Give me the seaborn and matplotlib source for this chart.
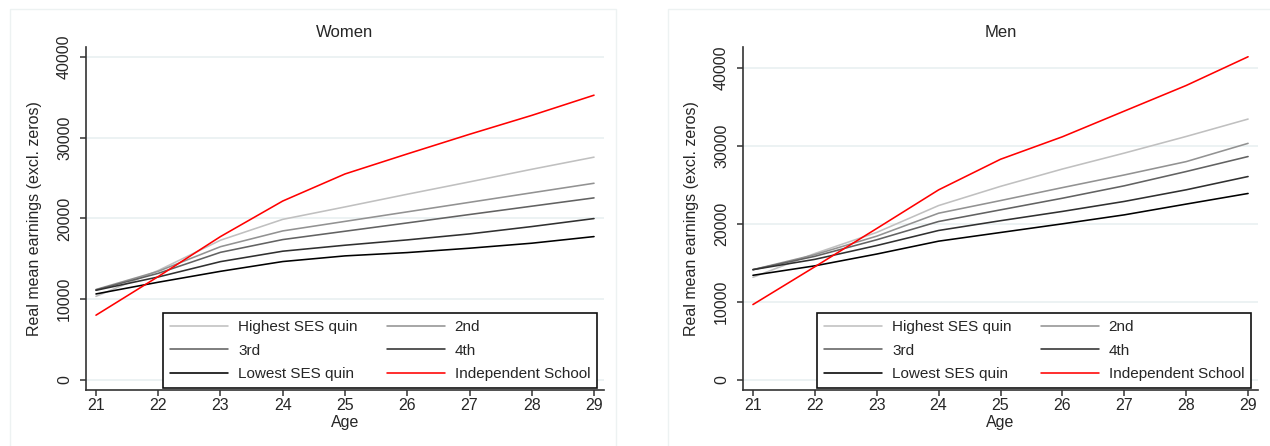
import matplotlib
matplotlib.use("Agg")
import matplotlib.pyplot as plt
from matplotlib.patches import Rectangle
from matplotlib.lines import Line2D
import pandas as pd
import seaborn as sns

ages = [21, 22, 23, 24, 25, 26, 27, 28, 29]
groups = ["Highest SES quin", "2nd", "3rd", "4th", "Lowest SES quin", "Independent School"]

# women, real mean earnings (excl. zeros)
women_highest = [10350, 13550, 17300, 19880, 21420, 22990, 24520, 26080, 27580]
women_second = [11200, 13450, 16500, 18450, 19630, 20810, 21990, 23170, 24350]
women_third = [11150, 13200, 15800, 17380, 18410, 19440, 20480, 21510, 22540]
women_fourth = [11100, 12750, 14650, 15940, 16680, 17340, 18080, 18990, 19980]
women_lowest = [10650, 12100, 13450, 14660, 15360, 15770, 16310, 16930, 17750]
women_indep = [8020, 12800, 17750, 22150, 25500, 27980, 30410, 32750, 35250]

# men
men_highest = [13150, 16200, 18900, 22340, 24800, 27020, 29060, 31190, 33420]
men_second = [14130, 16050, 18420, 21360, 22980, 24640, 26260, 27970, 30310]
men_third = [14130, 15840, 17960, 20300, 21790, 23280, 24870, 26700, 28620]
men_fourth = [14130, 15450, 17220, 19150, 20400, 21590, 22870, 24360, 26060]
men_lowest = [13410, 14620, 16130, 17780, 18890, 20000, 21150, 22530, 23890]
men_indep = [9660, 14500, 19400, 24350, 28270, 31150, 34440, 37720, 41400]

colors = {"Highest SES quin": "#c0c0c0", "2nd": "#929292", "3rd": "#626262",
          "4th": "#303030", "Lowest SES quin": "#000000", "Independent School": "#ff0000"}


def to_long(series):
    rows = []
    for g, vals in zip(groups, series):
        for a, v in zip(ages, vals):
            rows.append({"Age": a, "earn": v, "group": g})
    return pd.DataFrame(rows)


women = to_long([women_highest, women_second, women_third, women_fourth, women_lowest, women_indep])
men = to_long([men_highest, men_second, men_third, men_fourth, men_lowest, men_indep])

sns.set_style("white")
plt.rcParams["font.family"] = ["Liberation Sans", "DejaVu Sans"]

fig = plt.figure(figsize=(12.7, 4.46), dpi=100)
W, H = 1270, 446

# light panel frames
for x0, x1 in [(10, 616), (668, 1290)]:
    fig.patches.append(Rectangle((x0 / W, -0.1), (x1 - x0) / W, (H - 9) / H + 0.1,
                                 transform=fig.transFigure, fill=False,
                                 edgecolor="#edf2f2", lw=1.0))

panels = [
    (women, "Women", (86, 604), (-1238, 41213)),
    (men, "Men", (743, 1258), (-1281, 42648)),
]

for data, title, (px0, px1), ylim in panels:
    ax = fig.add_axes([px0 / W, (H - 390) / H, (px1 - px0) / W, (390 - 47) / H])
    for yv in range(0, 40001, 10000):
        ax.axhline(yv, color="#eaf1f2", lw=1.3, zorder=0)
    sns.lineplot(data=data, x="Age", y="earn", hue="group", hue_order=groups,
                 palette=colors, lw=1.15, ax=ax, legend=False, zorder=3)
    ax.set_xlim(20.84, 29.16)
    ax.set_ylim(*ylim)
    ax.set_xticks(ages)
    ax.set_yticks(range(0, 40001, 10000))
    ax.tick_params(axis="both", direction="out", length=4, width=1.1, color="#333333",
                   labelsize=11.5, left=True, bottom=True)
    ax.tick_params(axis="x", pad=2)
    ax.tick_params(axis="y", pad=6)
    for lab in ax.get_yticklabels():
        lab.set_rotation(90)
        lab.set_va("center")
    for side in ["top", "right"]:
        ax.spines[side].set_visible(False)
    for side in ["left", "bottom"]:
        ax.spines[side].set_color("#333333")
        ax.spines[side].set_linewidth(1.2)
    ax.set_xlabel("Age", fontsize=11.5, labelpad=1)
    ax.set_ylabel("Real mean earnings (excl. zeros)", fontsize=11.5, labelpad=11)
    ax.set_title(title, fontsize=12, pad=7)

    # Stata fills legend rows first, matplotlib fills columns
    order = [0, 2, 4, 1, 3, 5]
    handles = [Line2D([], [], color=colors[groups[i]], lw=1.15) for i in order]
    labels = [groups[i] for i in order]
    leg = ax.legend(handles, labels, ncol=2, loc="lower right",
                    bbox_to_anchor=(0.9865, 0.006), borderaxespad=0, fontsize=11,
                    frameon=True, fancybox=False, framealpha=1, edgecolor="#111111",
                    handlelength=3.8, handletextpad=0.65, columnspacing=1.9,
                    labelspacing=0.62, borderpad=0.45)
    leg.get_frame().set_linewidth(1.2)
    leg.set_zorder(5)

fig.savefig("out.png", dpi=100)
